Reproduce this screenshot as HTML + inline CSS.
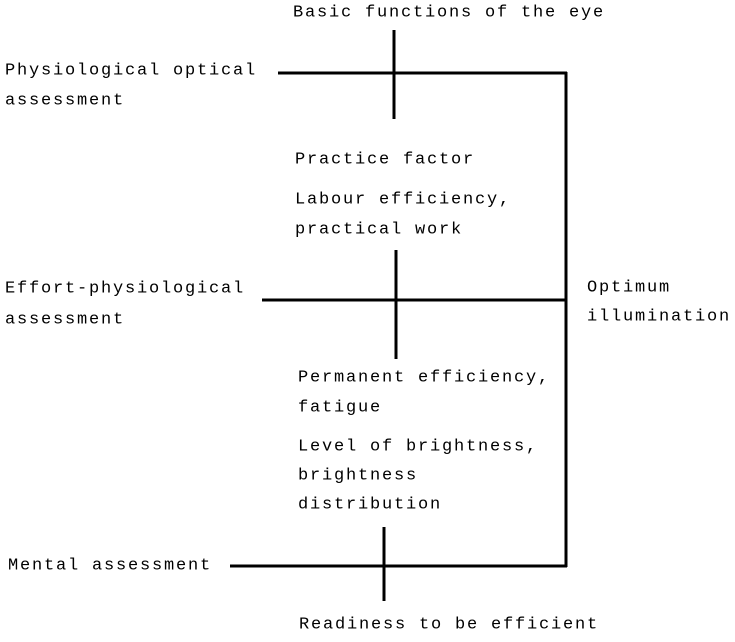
<!DOCTYPE html>
<html><head><meta charset="utf-8"><style>
html,body{margin:0;padding:0;background:#fff;}
svg text{font-family:"Liberation Mono",monospace;font-size:17px;letter-spacing:1.8px;fill:#000;dominant-baseline:middle;}
</style></head><body>
<svg width="735" height="637" viewBox="0 0 735 637" xmlns="http://www.w3.org/2000/svg">
<g stroke="#000" stroke-width="3" fill="none">
<line x1="278" y1="73" x2="567" y2="73"/>
<line x1="394" y1="30" x2="394" y2="119"/>
<line x1="566" y1="72" x2="566" y2="567"/>
<line x1="262" y1="300" x2="566" y2="300"/>
<line x1="396" y1="250" x2="396" y2="359"/>
<line x1="230" y1="566" x2="567" y2="566"/>
<line x1="384" y1="527" x2="384" y2="601"/>
</g>
<text x="293" y="12">Basic functions of the eye</text>
<text x="5" y="70">Physiological optical</text>
<text x="5" y="100">assessment</text>
<text x="295" y="159">Practice factor</text>
<text x="295" y="199">Labour efficiency,</text>
<text x="295" y="229">practical work</text>
<text x="5" y="288">Effort-physiological</text>
<text x="5" y="319">assessment</text>
<text x="587" y="287">Optimum</text>
<text x="587" y="316">illumination</text>
<text x="298" y="377">Permanent efficiency,</text>
<text x="298" y="407">fatigue</text>
<text x="298" y="446">Level of brightness,</text>
<text x="298" y="475">brightness</text>
<text x="298" y="504">distribution</text>
<text x="8" y="565">Mental assessment</text>
<text x="299" y="624">Readiness to be efficient</text>
</svg>
</body></html>
